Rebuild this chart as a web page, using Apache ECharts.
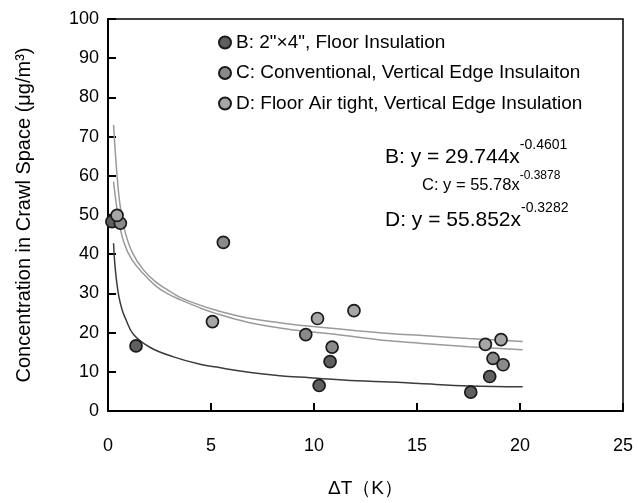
<!DOCTYPE html>
<html>
<head>
<meta charset="utf-8">
<title>Crawl space concentration</title>
<script src="https://cdn.jsdelivr.net/npm/echarts@6/dist/echarts.min.js"></script>
<style>
body{margin:0;background:#fff}
#main{width:638px;height:503px}
</style>
</head>
<body>
<div id="main"></div>
<script>
// measured points [dT, concentration]
let ptsB = [[0.19,48.3],[1.36,16.6],[10.25,6.5],[10.78,12.6],[17.61,4.8],[18.53,8.8]]
let ptsC = [[0.60,47.9],[5.60,43.0],[9.60,19.5],[10.88,16.3],[18.69,13.4],[19.18,11.8]]
let ptsD = [[0.44,49.9],[5.07,22.8],[10.17,23.6],[11.94,25.6],[18.32,17.0],[19.08,18.2]]

// trend curves
let fitB = [[0.27,42.8],[0.35,36.4],[0.51,29.7],[0.68,25.9],[0.84,23.7],[1.24,19.5],[2.05,16.2],[3.18,13.8],[4.47,11.9],[5.28,11.2],[6.41,10.2],[8.34,9.0],[9.8,8.5],[12.06,7.7],[13.67,7.4],[15.12,7.0],[17.54,6.4],[20.13,6.2]]
let fitD = [[0.27,73],[0.44,60],[0.6,52],[0.84,45.5],[1.2,40.2],[1.72,36],[2.3,33],[2.86,31],[3.5,29.0],[4.47,27],[5.11,25.9],[6.73,23.8],[8.34,22.5],[9.8,21.6],[10.44,21.3],[12.06,20.5],[13.67,19.8],[15.12,19.3],[17.5,18.5],[20.13,17.7]]
let fitC = [[0.27,58.5],[0.51,49],[0.76,43.2],[1.16,38.6],[1.72,35],[2.3,32],[2.86,30],[3.5,28.4],[4.47,26.3],[5.11,25.1],[6.73,22.7],[8.34,21.2],[9.8,20.2],[10.44,19.9],[12.06,18.9],[13.67,17.9],[15.12,17.3],[17.5,16.4],[20.13,15.6]]

let names = ['B: 2"×4", Floor Insulation', 'C: Conventional, Vertical Edge Insulaiton', 'D: Floor Air tight, Vertical Edge Insulation']
let fills = ['#5f5f5f', '#8a8a8a', '#a6a6a6']

let eqs = [
    {x:385, y:153, pre:'B: y = 29.744x', exp:'-0.4601', size:21, esize:14},
    {x:422, y:182, pre:'C: y = 55.78x', exp:'-0.3878', size:16.5, esize:12},
    {x:385, y:216, pre:'D: y = 55.852x', exp:'-0.3282', size:21, esize:14}
]

const FONT = 'Liberation Sans, Arial, sans-serif'

function pointSeries(name, data, fill){
    return {
        name: name,
        type: 'scatter',
        data: data,
        symbol: 'circle',
        symbolSize: 12,
        itemStyle: { color: fill, borderColor: '#1a1a1a', borderWidth: 1.7, opacity: 1 },
        z: 5
    }
}

function fitSeries(data, color){
    return {
        type: 'line',
        data: data,
        showSymbol: false,
        smooth: 0.4,
        silent: true,
        lineStyle: { color: color, width: 1.5 },
        z: 3
    }
}

function eqText(e){
    let lh = e.size + 8
    return {
        type: 'text',
        left: e.x,
        top: e.y - lh / 2,
        style: {
            text: '{b|' + e.pre + '}{s|' + e.exp + '}',
            rich: {
                b: { fontSize: e.size, fontFamily: FONT, fill: '#000', lineHeight: lh, verticalAlign: 'bottom' },
                s: { fontSize: e.esize, fontFamily: FONT, fill: '#000', verticalAlign: 'top', lineHeight: lh }
            }
        }
    }
}

let chart = echarts.init(document.getElementById('main'))

chart.setOption({
    animation: false,
    backgroundColor: '#fff',
    textStyle: { fontFamily: FONT },
    grid: { left: 108, right: 15, top: 19, bottom: 89, show: true, borderColor: '#000', borderWidth: 1.5, backgroundColor: 'transparent' },
    legend: {
        data: names,
        orient: 'vertical',
        left: 218,
        top: 33,
        padding: 0,
        itemGap: 11.5,
        itemWidth: 12,
        itemHeight: 12,
        textStyle: { fontSize: 19, color: '#000', fontFamily: FONT }
    },
    xAxis: {
        type: 'value',
        min: 0, max: 25, interval: 5,
        name: 'ΔT（K）',
        nameLocation: 'middle',
        nameGap: 68,
        nameTextStyle: { fontSize: 19, color: '#000', fontFamily: FONT },
        axisLine: { show: true, lineStyle: { color: '#000', width: 2 } },
        axisTick: { show: true, inside: true, length: 8, lineStyle: { color: '#000', width: 2 } },
        axisLabel: { fontSize: 18, color: '#000', margin: 26, fontFamily: FONT },
        splitLine: { show: false }
    },
    yAxis: {
        type: 'value',
        min: 0, max: 100, interval: 10,
        name: 'Concentration in Crawl Space (μg/m³)',
        nameLocation: 'middle',
        nameGap: 74,
        nameTextStyle: { fontSize: 20, color: '#000', fontFamily: FONT },
        axisLine: { show: true, lineStyle: { color: '#000', width: 2 } },
        axisTick: { show: true, inside: true, length: 8, lineStyle: { color: '#000', width: 2 } },
        axisLabel: { fontSize: 18, color: '#000', margin: 9, fontFamily: FONT },
        splitLine: { show: false }
    },
    graphic: eqs.map(eqText),
    series: [
        fitSeries(fitB, '#3c3c3c'),
        fitSeries(fitC, '#9a9a9a'),
        fitSeries(fitD, '#9a9a9a'),
        pointSeries(names[0], ptsB, fills[0]),
        pointSeries(names[1], ptsC, fills[1]),
        pointSeries(names[2], ptsD, fills[2])
    ]
})
</script>
</body>
</html>
